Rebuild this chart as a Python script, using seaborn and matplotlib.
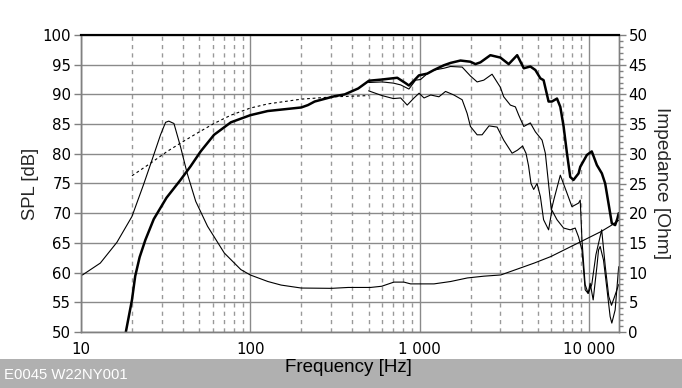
import matplotlib
matplotlib.use('Agg')
import matplotlib.pyplot as plt
import matplotlib.ticker as mticker
from matplotlib.patches import Rectangle
import seaborn as sns

# ---------------------------------------------------------------------------
# Data
# ---------------------------------------------------------------------------
# on-axis SPL (thick)
spl0_f = [18.4, 20, 20.9, 22.2, 24, 26.9, 32, 38.7, 44.4, 50.9,
          61.1, 76.8, 100, 126.7, 200, 219, 240, 315, 361, 434,
          502, 597, 738, 826, 865, 925, 991, 1110, 1214, 1390,
          1523, 1744, 1997, 2137, 2288, 2618, 3000, 3360, 3770, 4125,
          4510, 4830, 5170, 5400, 5780, 6050, 6480, 6780, 7090, 7420,
          7760, 8110, 8690, 8890, 9730, 10400, 11150, 11930, 12480, 13050,
          13660, 14290, 14740, 15000]
spl0_db = [50, 55.4, 59.4, 62.6, 65.5, 69.0, 72.6, 75.6, 77.9, 80.4,
           83.2, 85.3, 86.5, 87.2, 87.8, 88.2, 88.8, 89.7, 90.0, 91.0,
           92.3, 92.5, 92.8, 91.9, 91.5, 92.3, 93.2, 93.5, 94.1, 94.9,
           95.3, 95.7, 95.5, 95.1, 95.4, 96.6, 96.2, 95.1, 96.6, 94.4,
           94.7, 94.1, 92.7, 92.4, 88.8, 88.8, 89.3, 87.9, 84.6, 80.1,
           76.1, 75.6, 76.7, 77.8, 79.8, 80.4, 78.1, 76.7, 75.0, 71.7,
           68.3, 68.0, 69.1, 70.0]

# off-axis SPL, upper thin curve
spl30_f = [500, 600, 700, 773, 865, 947, 1013, 1110, 1214, 1390,
           1523, 1784, 1997, 2187, 2394, 2680, 3000, 3140, 3437, 3680,
           3852, 4125, 4510, 4830, 5290, 5530, 5800, 6000, 6200, 6780,
           7420, 7940, 8690, 8890, 9100, 9500, 9900, 10400, 11000, 11900,
           12500, 13100, 13600, 14200, 15000]
spl30_db = [92.0, 92.1, 91.9, 91.6, 90.9, 92.4, 92.5, 93.5, 94.1, 94.4,
            94.7, 94.6, 93.1, 92.1, 92.4, 93.4, 91.2, 89.6, 88.2, 87.9,
            86.5, 84.6, 85.2, 83.7, 82.3, 80.1, 74.5, 70.5, 72.2, 76.4,
            73.4, 71.1, 71.7, 72.2, 65.5, 58.0, 56.5, 58.0, 63.0, 67.2,
            61.0, 56.0, 54.5, 56.0, 58.0]

# off-axis SPL, lower thin curve
spl60_f = [500, 600, 700, 773, 845, 927, 993, 1062, 1163, 1301,
           1423, 1594, 1784, 1909, 1997, 2187, 2340, 2570, 2870, 3140,
           3520, 3780, 4060, 4250, 4400, 4550, 4720, 4940, 5170, 5400,
           5780, 6050, 6480, 7090, 7760, 8300, 8690, 9100, 9510, 9900,
           10180, 10600, 11150, 11400, 11660, 12200, 12800, 13350, 13660, 14290,
           15000]
spl60_db = [90.6, 89.8, 89.3, 89.4, 88.2, 89.4, 90.2, 89.4, 89.9, 89.6,
            90.5, 89.9, 89.1, 86.8, 84.6, 83.2, 83.2, 84.7, 84.5, 82.3,
            80.1, 80.6, 81.3, 80.1, 78.0, 75.0, 74.0, 75.0, 72.8, 68.9,
            67.2, 70.5, 68.9, 67.5, 67.2, 67.5, 66.0, 63.8, 57.1, 56.5,
            58.2, 55.4, 61.0, 63.8, 64.4, 62.1, 57.1, 52.6, 51.5, 53.7,
            61.0]

# low-frequency (dashed) curve
lf_f = [20, 25.7, 32.3, 38.7, 48.7, 61, 76.8, 100, 127, 200, 315, 500]
lf_db = [76.3, 78.4, 80.4, 81.8, 83.5, 85.1, 86.5, 87.7, 88.4, 89.2, 89.6, 89.8]

# impedance (right axis)
imp_f = [10.2, 13.0, 16.3, 20, 23.4, 26.3, 29.5, 31.6, 33.0, 35.4,
         38.7, 42.4, 47.6, 55.9, 70.2, 88, 100, 127, 152, 200,
         302, 379, 513, 597, 705, 808, 885, 1216, 1525, 1915,
         2402, 3016, 3785, 4750, 5960, 7480, 9390, 11780, 13470, 15000]
imp_ohm = [9.6, 11.6, 15.1, 19.45, 24.8, 29.0, 33.2, 35.3, 35.5, 35.1,
           31.2, 26.7, 22.0, 17.8, 13.3, 10.5, 9.6, 8.5, 7.9, 7.4,
           7.35, 7.5, 7.5, 7.7, 8.4, 8.4, 8.1, 8.1, 8.5, 9.1,
           9.4, 9.6, 10.6, 11.6, 12.7, 14.1, 15.5, 16.9, 17.9, 18.8]

x_ticks = [10, 100, 1000, 10000]
x_labels = ['10', '100', '1 000', '10 000']

# ---------------------------------------------------------------------------
# Style
# ---------------------------------------------------------------------------
sns.set_style('white')
plt.rcParams['font.family'] = ['DejaVu Sans']
GRID = '#8a8a8a'
AXC = '#808080'

fig = plt.figure(figsize=(6.82, 3.88), dpi=100)
fig.patches.append(Rectangle((0, 0), 1, 29 / 388, transform=fig.transFigure,
                             facecolor='#b0b0b0', edgecolor='none', zorder=0))

ax = fig.add_axes([81 / 682, 1 - 332 / 388, 537.7 / 682, 297 / 388])
ax2 = ax.twinx()

ax.set_xscale('log')
ax.set_xlim(10, 15000)
ax.set_ylim(50, 100)
ax2.set_ylim(0, 50)

# grid
ax.set_yticks(range(50, 101, 5))
ax.set_xticks(x_ticks)
ax.set_xticklabels(x_labels)
ax.xaxis.set_minor_locator(mticker.LogLocator(base=10, subs=range(2, 10)))
ax.xaxis.set_minor_formatter(mticker.NullFormatter())
ax.grid(True, which='major', axis='both', color=GRID, linewidth=1.0)
ax.grid(True, which='minor', axis='x', color='#999999', linewidth=1.0,
        linestyle=(0, (3, 3)))
ax.set_axisbelow(True)

# curves
line_kw = dict(estimator=None, sort=False, color='black')
sns.lineplot(x=lf_f, y=lf_db, ax=ax, linewidth=0.8, linestyle=(0, (2.5, 2.5)), **line_kw)
sns.lineplot(x=spl60_f, y=spl60_db, ax=ax, linewidth=0.8, **line_kw)
sns.lineplot(x=spl30_f, y=spl30_db, ax=ax, linewidth=0.8, **line_kw)
sns.lineplot(x=spl0_f, y=spl0_db, ax=ax, linewidth=1.8, **line_kw)
sns.lineplot(x=imp_f, y=imp_ohm, ax=ax2, linewidth=0.8, **line_kw)
ax2.set_xlim(10, 15000)

# ticks & spines
ax2.set_yticks(range(0, 51, 5))
ax2.yaxis.set_minor_locator(mticker.MultipleLocator(1))
for a in (ax, ax2):
    for s in a.spines.values():
        s.set_color(AXC)
        s.set_linewidth(1.0)
    a.spines['top'].set_color('black')
    a.spines['top'].set_linewidth(1.5)
ax.tick_params(axis='both', which='major', direction='out', length=5, width=1,
               color=AXC, labelsize=10.8, labelcolor='black', pad=2)
ax.tick_params(axis='x', which='minor', direction='out', length=3, width=1, color=AXC)
ax.tick_params(axis='y', which='both', right=False)
ax2.tick_params(axis='y', which='major', direction='out', length=5, width=1,
                color=AXC, labelsize=10.8, labelcolor='black', pad=2)
ax2.tick_params(axis='y', which='minor', direction='out', length=3, width=1, color=AXC)

ax.set_ylabel('SPL [dB]', fontsize=13.3, family='Liberation Sans', labelpad=3)
ax2.set_ylabel('Impedance [Ohm]', fontsize=13.8, family='Liberation Sans',
               rotation=-90, labelpad=16)
ax.set_xlabel('')

fig.text(348 / 682, 1 - 368 / 388, 'Frequency [Hz]', fontsize=13.5,
         family='Liberation Sans', ha='center', va='center', color='black')
fig.text(4 / 682, 1 - 375 / 388, 'E0045 W22NY001', fontsize=10.7,
         family='Liberation Sans', ha='left', va='center', color='white')

fig.savefig('out.png', dpi=100)
